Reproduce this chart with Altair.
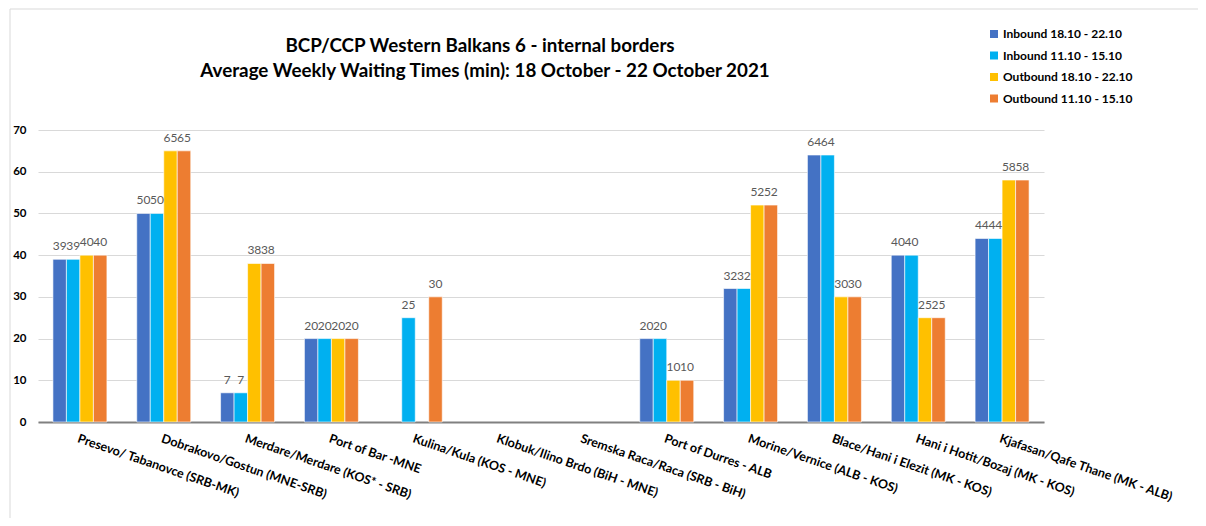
import altair as alt
import pandas as pd

categories = [
    "Presevo/ Tabanovce (SRB-MK)",
    "Dobrakovo/Gostun (MNE-SRB)",
    "Merdare/Merdare (KOS* - SRB)",
    "Port of Bar -MNE",
    "Kulina/Kula (KOS - MNE)",
    "Klobuk/Ilino Brdo (BiH - MNE)",
    "Sremska Raca/Raca (SRB - BiH)",
    "Port of Durres - ALB",
    "Morine/Vernice (ALB - KOS)",
    "Blace/Hani i Elezit (MK - KOS)",
    "Hani i Hotit/Bozaj (MK - KOS)",
    "Kjafasan/Qafe Thane (MK - ALB)",
]
series = [
    "Inbound 18.10 - 22.10",
    "Inbound 11.10 - 15.10",
    "Outbound 18.10 - 22.10",
    "Outbound 11.10 - 15.10",
]
inbound_1810 = [39, 50, 7, 20, None, None, None, 20, 32, 64, 40, 44]
inbound_1110 = [39, 50, 7, 20, 25, None, None, 20, 32, 64, 40, 44]
outbound_1810 = [40, 65, 38, 20, None, None, None, 10, 52, 30, 25, 58]
outbound_1110 = [40, 65, 38, 20, 30, None, None, 10, 52, 30, 25, 58]
colors = ["#4472C4", "#00B0F0", "#FFC000", "#ED7D31"]
y_ticks = [0, 10, 20, 30, 40, 50, 60, 70]
title_lines = [
    "BCP/CCP Western Balkans 6 - internal borders",
    "Average Weekly Waiting Times (min): 18 October - 22 October 2021",
]

rows = []
for s, vals in zip(series, [inbound_1810, inbound_1110, outbound_1810, outbound_1110]):
    for c, v in zip(categories, vals):
        if v is not None:
            rows.append({"station": c, "series": s, "value": v})
df = pd.DataFrame(rows)

FONT = "Lato"

base = alt.Chart(df).encode(
    x=alt.X(
        "station:N",
        sort=categories,
        scale=alt.Scale(domain=categories, paddingInner=0.356, paddingOuter=0.178),
        axis=alt.Axis(
            title=None,
            labelAngle=19,
            labelAlign="left",
            labelBaseline="top",
            labelFont=FONT,
            labelFontWeight="bold",
            labelFontSize=12.5,
            labelColor="#000000",
            labelLimit=0,
            labelPadding=10,
            ticks=False,
            grid=False,
            domainColor="#808080",
            domainWidth=2,
        ),
    ),
    xOffset=alt.XOffset("series:N", sort=series, scale=alt.Scale(domain=series)),
    y=alt.Y(
        "value:Q",
        scale=alt.Scale(domain=[0, 70]),
        axis=alt.Axis(
            title=None,
            values=y_ticks,
            grid=True,
            gridColor="#d9d9d9",
            domain=False,
            ticks=False,
            labelFont=FONT,
            labelFontWeight="bold",
            labelFontSize=11.5,
            labelColor="#000000",
            labelPadding=12,
        ),
    ),
)

bars = base.mark_bar(stroke="#ffffff", strokeWidth=0.6).encode(
    color=alt.Color(
        "series:N",
        sort=series,
        scale=alt.Scale(domain=series, range=colors),
        legend=alt.Legend(
            title=None,
            orient="none",
            legendX=950,
            legendY=-102,
            symbolType="square",
            symbolSize=64,
            symbolStrokeWidth=0,
            labelFont=FONT,
            labelFontWeight="bold",
            labelFontSize=12,
            labelColor="#000000",
            labelOffset=3,
            rowPadding=9.5,
        ),
    )
)

labels = base.mark_text(
    dy=-9, fontSize=12, font=FONT, color="#595959", baseline="alphabetic"
).encode(text="value:Q")

one = pd.DataFrame({"a": [0]})

frame = alt.Chart(one).mark_rect(
    fill=None, stroke="#d9d9d9", strokeWidth=1
).encode(
    x=alt.value(-28), x2=alt.value(1200), y=alt.value(-121), y2=alt.value(600)
)

title1 = alt.Chart(one).mark_text(
    font=FONT, fontSize=18.8, fontWeight="bold", color="#000000",
    align="center", baseline="middle",
).encode(x=alt.value(442), y=alt.value(-84), text=alt.value(title_lines[0]))

title2 = alt.Chart(one).mark_text(
    font=FONT, fontSize=18.8, fontWeight="bold", color="#000000",
    align="center", baseline="middle",
).encode(x=alt.value(447), y=alt.value(-59), text=alt.value(title_lines[1]))

chart = (
    alt.layer(frame, title1, title2, bars, labels)
    .properties(
        width=1006,
        height=292,
        autosize="none",
        padding={"left": 30, "top": 122, "right": 154, "bottom": 96},
    )
    .configure_view(stroke=None)
)

chart.save("out.html", embed_options={"renderer": "svg", "actions": False})
